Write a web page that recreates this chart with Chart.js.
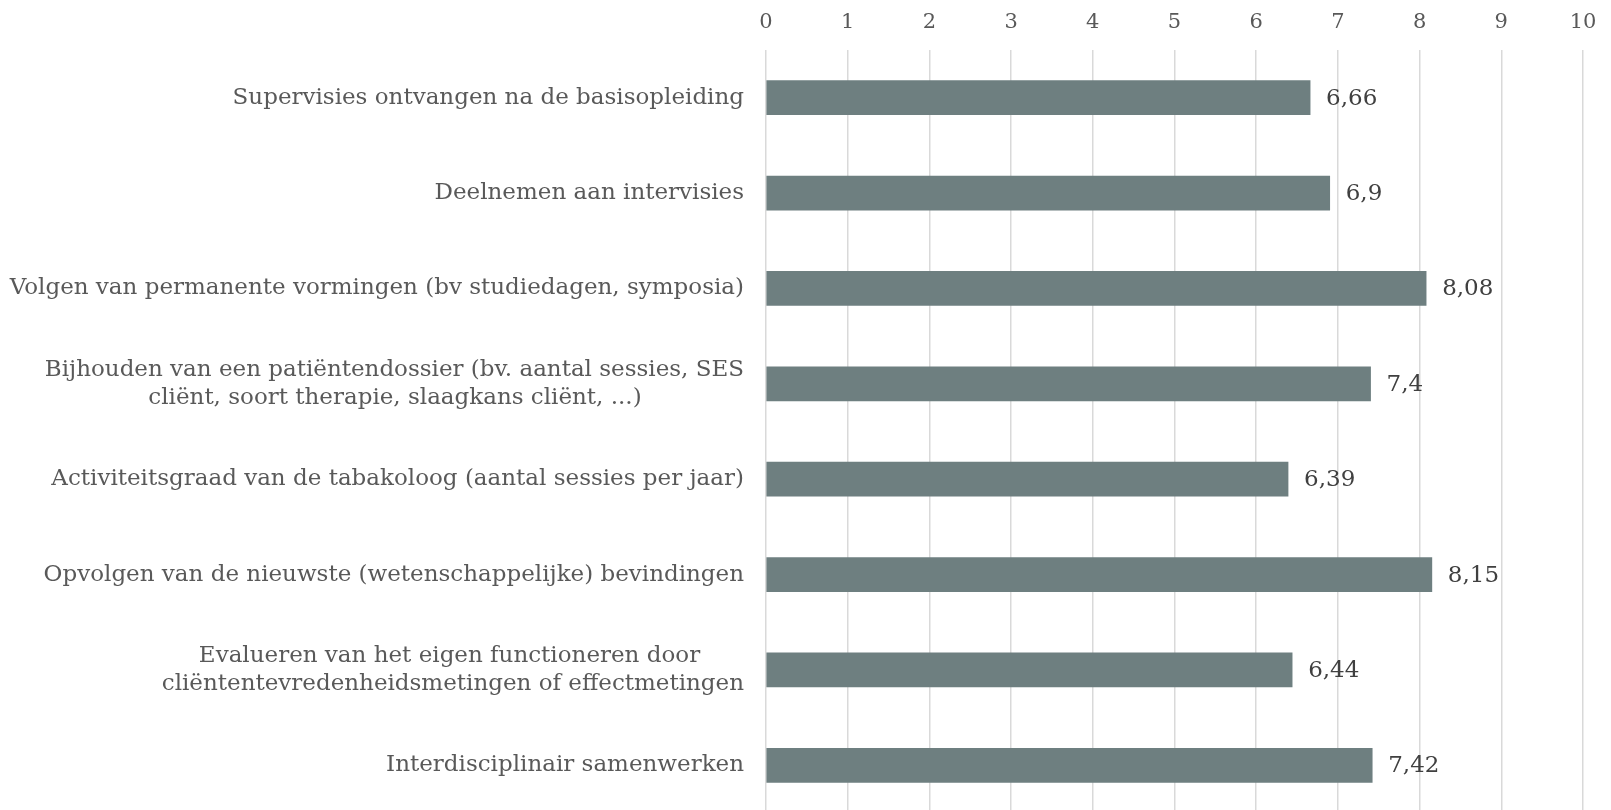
<!DOCTYPE html>
<html><head><meta charset="utf-8">
<script src="https://cdn.jsdelivr.net/npm/chart.js@4.4.1/dist/chart.umd.min.js"></script>
<style>html,body{margin:0;padding:0;background:#fff;overflow:hidden}#wrap{width:1611px;height:813px;position:relative}</style>
</head><body><div id="wrap"><canvas id="c" width="1611" height="813"></canvas></div>
<script>
const categories = [
  ["Supervisies ontvangen na de basisopleiding"],
  ["Deelnemen aan intervisies"],
  ["Volgen van permanente vormingen (bv studiedagen, symposia)"],
  ["Bijhouden van een patiëntendossier (bv. aantal sessies, SES", "cliënt, soort therapie, slaagkans cliënt, ...)"],
  ["Activiteitsgraad van de tabakoloog (aantal sessies per jaar)"],
  ["Opvolgen van de nieuwste (wetenschappelijke) bevindingen"],
  ["Evalueren van het eigen functioneren door", "cliëntentevredenheidsmetingen of effectmetingen"],
  ["Interdisciplinair samenwerken"]
];
const values = [6.66, 6.9, 8.08, 7.4, 6.39, 8.15, 6.44, 7.42];
const tickValues = [0,1,2,3,4,5,6,7,8,9,10];

const FONT_FAMILY = "'DejaVu Serif', serif";
const LABEL_SIZE = 23;
const TICK_SIZE = 21;
const mctx = document.createElement('canvas').getContext('2d');
mctx.font = LABEL_SIZE + "px " + FONT_FAMILY;
function centerLines(lines){
  if (lines.length < 2) return lines[0];
  const widths = lines.map(l => mctx.measureText(l).width);
  const maxW = Math.max(...widths);
  const sp = mctx.measureText('\u00A0').width;
  return lines.map((l,i) => {
    const n = Math.round((maxW - widths[i]) / 2 / sp);
    return l + '\u00A0'.repeat(n);
  });
}

const valueLabels = {
  id: 'valueLabels',
  afterDatasetsDraw(chart){
    const ctx = chart.ctx;
    const meta = chart.getDatasetMeta(0);
    ctx.save();
    ctx.font = LABEL_SIZE + "px " + FONT_FAMILY;
    ctx.fillStyle = '#404040';
    ctx.textAlign = 'left';
    ctx.textBaseline = 'middle';
    meta.data.forEach((bar, i) => {
      const txt = String(values[i]).replace('.', ',');
      ctx.fillText(txt, bar.x + 16, bar.y + 1);
    });
    ctx.restore();
  }
};

new Chart(document.getElementById('c'), {
  type: 'bar',
  data: {
    labels: categories.map(centerLines),
    datasets: [{
      data: values,
      backgroundColor: '#6E7F80',
      borderWidth: 0,
      barThickness: 34
    }]
  },
  options: {
    indexAxis: 'y',
    responsive: false,
    animation: false,
    layout: { padding: { left: 0, right: 28, top: 0, bottom: 0 } },
    plugins: { legend: { display: false }, tooltip: { enabled: false } },
    scales: {
      x: {
        position: 'top',
        min: 0, max: 10,
        afterBuildTicks(scale){ scale.ticks = tickValues.map(v => ({value: v})); },
        afterFit(scale){ scale.height = 50; scale.paddingLeft = 0; scale.paddingRight = 0; },
        grid: { color: '#D9D9D9', lineWidth: 1.5, drawTicks: false },
        border: { display: false },
        ticks: { color: '#595959', font: { family: FONT_FAMILY, size: TICK_SIZE }, padding: 15 }
      },
      y: {
        afterFit(scale){ scale.width = 766; scale.paddingTop = 0; scale.paddingBottom = 0; },
        grid: { display: false, drawTicks: false },
        border: { display: false },
        ticks: { color: '#595959', font: { family: FONT_FAMILY, size: LABEL_SIZE, lineHeight: 1.24 }, padding: 22, autoSkip: false }
      }
    }
  },
  plugins: [valueLabels]
});
</script></body></html>
